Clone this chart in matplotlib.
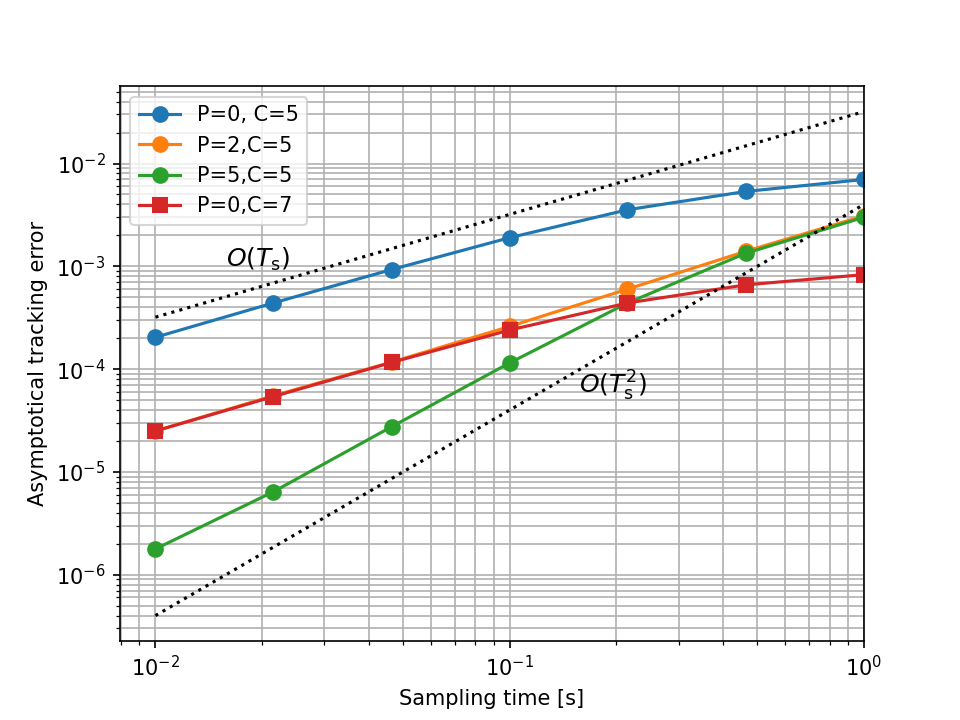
import matplotlib
matplotlib.use("Agg")
import matplotlib.pyplot as plt

# =========================
# DATA
# =========================
ts = [0.01, 0.0215, 0.0464, 0.1, 0.215, 0.464, 1.0]

err_p0_c5 = [2.04e-4, 4.4e-4, 9.3e-4, 1.9e-3, 3.55e-3, 5.35e-3, 7.0e-3]
err_p2_c5 = [2.5e-5, 5.5e-5, 1.17e-4, 2.6e-4, 6.0e-4, 1.4e-3, 3.1e-3]
err_p5_c5 = [1.78e-6, 6.4e-6, 2.75e-5, 1.15e-4, 4.4e-4, 1.34e-3, 3.0e-3]
err_p0_c7 = [2.5e-5, 5.4e-5, 1.16e-4, 2.4e-4, 4.4e-4, 6.6e-4, 8.3e-4]

ref_x = [0.01, 1.0]
ref_order1 = [3.2e-4, 3.2e-2]
ref_order2 = [4.0e-7, 4.0e-3]

# =========================
# PLOT
# =========================
fig, ax = plt.subplots(figsize=(6.4, 4.8), dpi=150)

ax.loglog(ts, err_p0_c5, "o-", lw=1.5, ms=7, label="P=0, C=5")
ax.loglog(ts, err_p2_c5, "o-", lw=1.5, ms=7, label="P=2,C=5")
ax.loglog(ts, err_p5_c5, "o-", lw=1.5, ms=7, label="P=5,C=5")
ax.loglog(ts, err_p0_c7, "s-", lw=1.5, ms=7, label="P=0,C=7")

ax.loglog(ref_x, ref_order1, "k:", lw=1.5)
ax.loglog(ref_x, ref_order2, "k:", lw=1.5)

ax.text(0.0158, 1.17e-3, r"$O(T_\mathrm{s})$", fontsize=12, va="center")
ax.text(0.157, 6.9e-5, r"$O(T_\mathrm{s}^2)$", fontsize=12, va="center")

ax.set_xlim(right=1.0)
ax.set_xlabel("Sampling time [s]")
ax.set_ylabel("Asymptotical tracking error")
ax.legend(loc="upper left")
ax.grid(which="both")

fig.savefig("out.png", dpi=150)
